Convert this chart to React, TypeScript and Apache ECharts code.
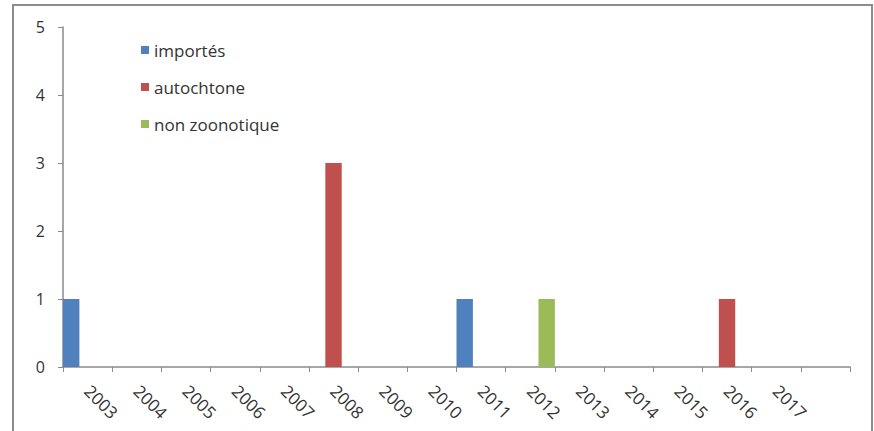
import React, { useEffect, useRef } from "react";
import * as echarts from "echarts";

const years = ["2003", "2004", "2005", "2006", "2007", "2008", "2009", "2010", "2011", "2012", "2013", "2014", "2015", "2016", "2017", ""];
const importes = [1, 0, 0, 0, 0, 0, 0, 0, 1, 0, 0, 0, 0, 0, 0];
const autochtone = [0, 0, 0, 0, 0, 3, 0, 0, 0, 0, 0, 0, 0, 1, 0];
const nonZoonotique = [0, 0, 0, 0, 0, 0, 0, 0, 0, 1, 0, 0, 0, 0, 0];

const FONT = "Open Sans";
const AXIS_GRAY = "#8a8a8a";

export default function App() {
  const ref = useRef<HTMLDivElement>(null);

  useEffect(() => {
    if (!ref.current) return;
    const chart = echarts.init(ref.current, null, { renderer: "svg" });
    chart.setOption({
      animation: false,
      backgroundColor: "#ffffff",
      textStyle: { fontFamily: FONT },
      graphic: [
        {
          type: "rect",
          shape: { x: 13, y: 5, width: 859, height: 440 },
          style: { fill: "none", stroke: "#8c8c8c", lineWidth: 2 },
          silent: true,
        },
      ],
      legend: {
        orient: "vertical",
        left: 136,
        top: 36,
        icon: "rect",
        itemWidth: 8,
        itemHeight: 8,
        itemGap: 19,
        textStyle: { fontFamily: FONT, fontSize: 17, color: "#333", lineHeight: 18 },
        data: ["importés", "autochtone", "non zoonotique"],
      },
      grid: { left: 63, right: 24, top: 27, bottom: 64, containLabel: false },
      xAxis: {
        type: "category",
        data: years,
        boundaryGap: true,
        axisLine: { lineStyle: { color: AXIS_GRAY, width: 1.5 } },
        axisTick: { show: true, length: 5, interval: 0, lineStyle: { color: AXIS_GRAY } },
        axisLabel: { interval: 0, rotate: -45, margin: 21, fontSize: 17, color: "#333", fontFamily: FONT },
      },
      yAxis: {
        type: "value",
        min: 0,
        max: 5,
        interval: 1,
        axisLine: { show: true, lineStyle: { color: AXIS_GRAY, width: 1.5 } },
        axisTick: { show: true, length: 5, lineStyle: { color: AXIS_GRAY } },
        splitLine: { show: false },
        axisLabel: { margin: 18, fontSize: 16, color: "#333", fontFamily: FONT },
      },
      series: [
        { name: "importés", type: "bar", data: importes, itemStyle: { color: "#4F81BD" }, barGap: "0%", barCategoryGap: "0%" },
        { name: "autochtone", type: "bar", data: autochtone, itemStyle: { color: "#C0504D" }, barGap: "0%", barCategoryGap: "0%" },
        { name: "non zoonotique", type: "bar", data: nonZoonotique, itemStyle: { color: "#9BBB59" }, barGap: "0%", barCategoryGap: "0%" },
      ],
    });
    return () => chart.dispose();
  }, []);

  return <div ref={ref} style={{ position: "fixed", left: 0, top: 0, width: 874, height: 431 }} />;
}
